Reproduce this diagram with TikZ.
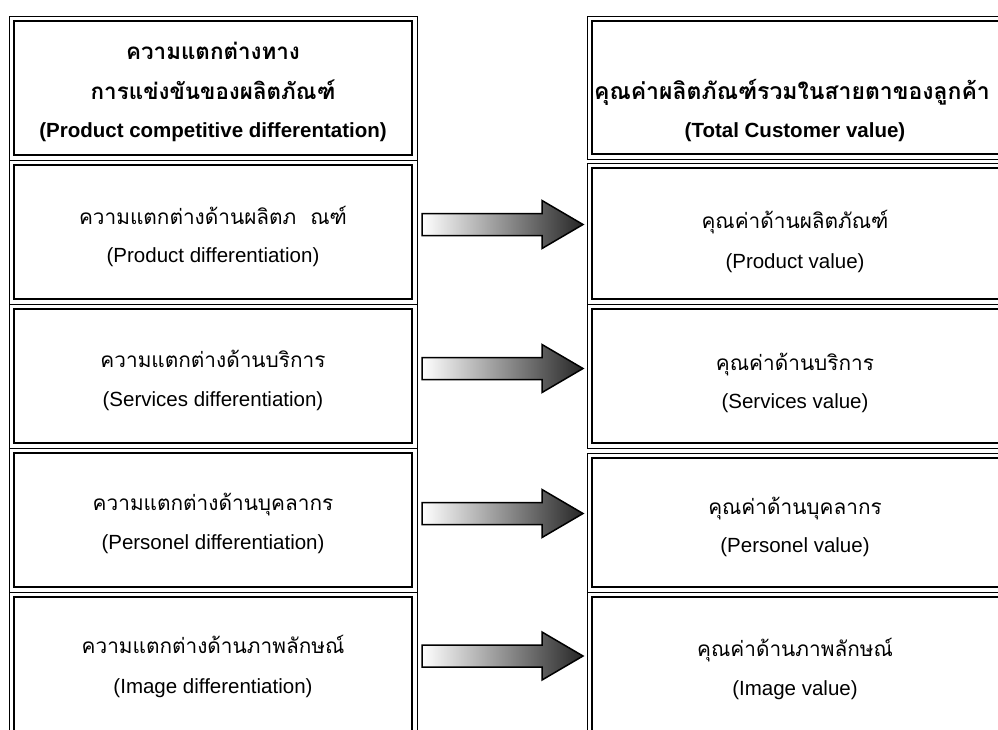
\documentclass[tikz,border=0pt]{standalone}
\usepackage{fontspec}
\setmainfont{Liberation Sans}
\newfontfamily\thaifont[Script=Thai]{Loma}
\begin{document}
\begin{tikzpicture}[x=1pt,y=-1pt,
  dbox/.style={draw, line width=1pt, rectangle, inner sep=0pt, outer sep=0pt, anchor=north west,
    path picture={\draw[line width=2pt] ([shift={(5pt,-5pt)}]path picture bounding box.north west) rectangle ([shift={(-5pt,5pt)}]path picture bounding box.south east);}},
  lbox/.style={dbox, minimum width=408pt, minimum height=144pt},
  rbox/.style={dbox, minimum width=420pt},
  th/.style={font=\thaifont\fontsize{20.8}{20.8}\selectfont, anchor=base, inner sep=0pt},
  thb/.style={font=\thaifont\bfseries\fontsize{22.4}{22.4}\selectfont, anchor=base, inner sep=0pt},
  en/.style={font=\fontsize{20.5}{20.5}\selectfont, anchor=base, inner sep=0pt},
  enb/.style={font=\bfseries\fontsize{20.5}{20.5}\selectfont, anchor=base, inner sep=0pt},
  barrow/.style={left color=white, middle color=black!40, right color=black!85, draw=black, line width=1.5pt, line join=miter}
]
\clip (0,0) rectangle (998,729);
\fill[white] (0,0) rectangle (998,729);
% left column
\node[lbox] (L1) at (9,16) {};
\node[lbox] (L2) at (9,160) {};
\node[lbox] (L3) at (9,304) {};
\node[lbox] (L4) at (9,448) {};
\node[lbox] (L5) at (9,592) {};
% right column
\node[rbox, minimum height=143pt] (R1) at (587,16) {};
\node[rbox, minimum height=141pt] (R2) at (587,163) {};
\node[rbox, minimum height=144pt] (R3) at (587,304) {};
\node[rbox, minimum height=139pt] (R4) at (587,453) {};
\node[rbox, minimum height=144pt] (R5) at (587,592) {};
% left texts
\node[thb] (t1) at (213,59) {ความแตกต่างทาง};
\node[thb] (t2) at (213,99) {การแข่งขันของผลิตภัณฑ์};
\node[enb] (t3) at (213,137) {(Product competitive differentation)};
\node[th] (t4) at (213,224) {ความแตกต่างด้านผลิตภ\hspace{14pt}ณฑ์};
\node[en] (t5) at (213,262) {(Product differentiation)};
\node[th] (t6) at (213,367) {ความแตกต่างด้านบริการ};
\node[en] (t7) at (213,406) {(Services differentiation)};
\node[th] (t8) at (213,510) {ความแตกต่างด้านบุคลากร};
\node[en] (t9) at (213,549) {(Personel differentiation)};
\node[th] (t10) at (213,653) {ความแตกต่างด้านภาพลักษณ์};
\node[en] (t11) at (213,693) {(Image differentiation)};
% right texts
\node[thb, font=\thaifont\bfseries\fontsize{23}{23}\selectfont] (u1) at (792,99) {คุณค่าผลิตภัณฑ์รวมในสายตาของลูกค้า};
\node[enb] (u2) at (795,137) {(Total Customer value)};
\node[th] (u3) at (795,228) {คุณค่าด้านผลิตภัณฑ์};
\node[en] (u4) at (795,268) {(Product value)};
\node[th] (u5) at (795,370) {คุณค่าด้านบริการ};
\node[en] (u6) at (795,408) {(Services value)};
\node[th] (u7) at (795,514) {คุณค่าด้านบุคลากร};
\node[en] (u8) at (795,552) {(Personel value)};
\node[th] (u9) at (795,656) {คุณค่าด้านภาพลักษณ์};
\node[en] (u10) at (795,695) {(Image value)};
% block arrows
\coordinate (A1) at (422,224.5);
\coordinate (A2) at (422,368.5);
\coordinate (A3) at (422,513.5);
\coordinate (A4) at (422,656);
\foreach \a in {A1,A2,A3,A4}{
  \shade[barrow] (\a) ++(0,-11) -- ++(120,0) -- ++(0,-13) -- ++(41,24) -- ++(-41,24) -- ++(0,-13) -- ++(-120,0) -- cycle;
}
\end{tikzpicture}
\end{document}
